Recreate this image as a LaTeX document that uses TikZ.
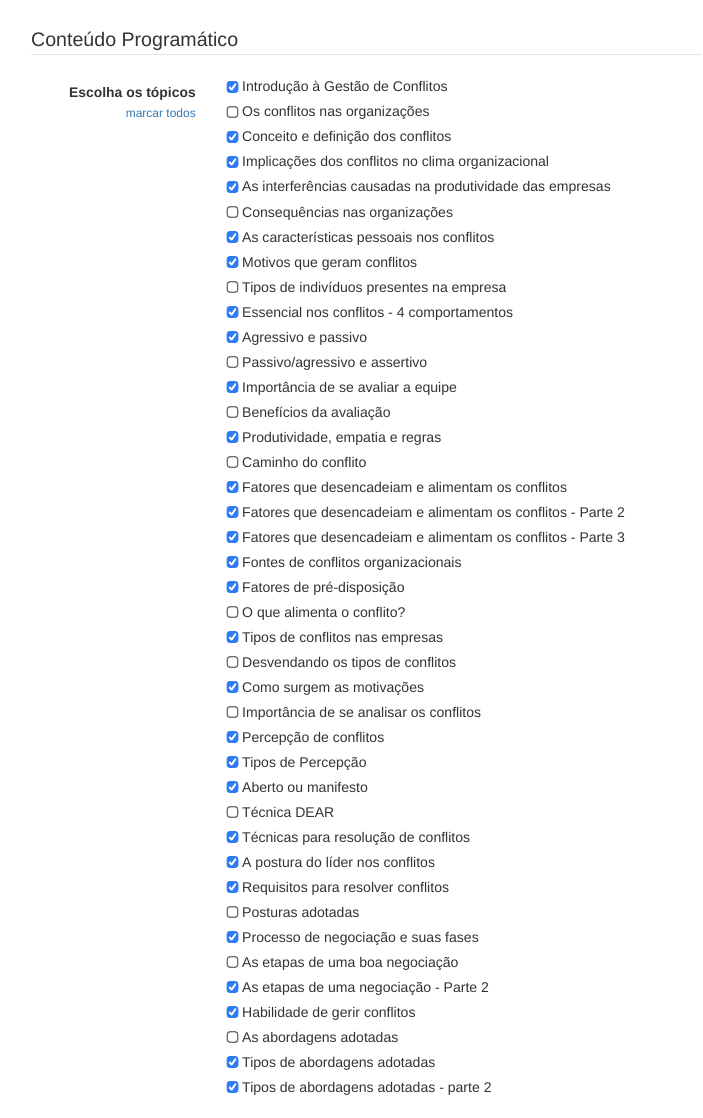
\documentclass[tikz,border=0pt]{standalone}
\usepackage{fontspec}
\setmainfont{Liberation Sans}
\definecolor{txt}{HTML}{333333}
\definecolor{head}{HTML}{333333}
\definecolor{rule}{HTML}{E5E5E5}
\definecolor{linkblue}{HTML}{337AB7}
\definecolor{cbblue}{HTML}{2F7BF5}
\definecolor{cbgray}{HTML}{6E6E6E}
\tikzset{
  boxon/.style={fill=cbblue, draw=cbblue, line width=0.6pt, rounded corners=2.5pt},
  boxoff/.style={fill=white, draw=cbgray, line width=1.3pt, rounded corners=2.5pt},
  tick/.style={draw=white, line width=1.8pt, line cap=round, line join=round},
  topic/.style={inner sep=0pt, text=txt, font=\fontsize{14.05}{16}\selectfont, anchor=base west},
}
\newcommand\topicitem[3]{%
  \pgfmathsetmacro\ycen{87+25*(#1-1)}%
  \ifnum#2=1
    \draw[boxon] (227,{\ycen-5.5}) rectangle (238,{\ycen+5.5});
    \draw[tick] (229.5,{\ycen+0.2}) -- (231.6,{\ycen+2.6}) -- (235.5,{\ycen-3.0});
  \else
    \draw[boxoff] (227.3,{\ycen-5.2}) rectangle (237.7,{\ycen+5.2});
  \fi
  \node[topic] (t#1) at (242,{\ycen+5}) {#3};
}
\begin{document}
\begin{tikzpicture}[x=1pt,y=-1pt]
\useasboundingbox[fill=white] (0,0) rectangle (702,1118);
\node[inner sep=0pt, anchor=base west, text=head, font=\fontsize{19.6}{23}\selectfont] (title) at (31,47) {Conteúdo Programático};
\coordinate (rl) at (31,54.5);
\coordinate (rr) at (702,54.5);
\draw[rule, line width=1.5pt] (rl) -- (rr);
\node[inner sep=0pt, anchor=base east, text=txt, font=\fontsize{13.9}{16}\selectfont\bfseries] (lbl) at (196,98) {Escolha os tópicos};
\node[inner sep=0pt, anchor=base east, text=linkblue, font=\fontsize{12}{14}\selectfont] (mark) at (196,118) {marcar todos};
\topicitem{1}{1}{Introdução à Gestão de Conflitos}
\topicitem{2}{0}{Os conflitos nas organizações}
\topicitem{3}{1}{Conceito e definição dos conflitos}
\topicitem{4}{1}{Implicações dos conflitos no clima organizacional}
\topicitem{5}{1}{As interferências causadas na produtividade das empresas}
\topicitem{6}{0}{Consequências nas organizações}
\topicitem{7}{1}{As características pessoais nos conflitos}
\topicitem{8}{1}{Motivos que geram conflitos}
\topicitem{9}{0}{Tipos de indivíduos presentes na empresa}
\topicitem{10}{1}{Essencial nos conflitos - 4 comportamentos}
\topicitem{11}{1}{Agressivo e passivo}
\topicitem{12}{0}{Passivo/agressivo e assertivo}
\topicitem{13}{1}{Importância de se avaliar a equipe}
\topicitem{14}{0}{Benefícios da avaliação}
\topicitem{15}{1}{Produtividade, empatia e regras}
\topicitem{16}{0}{Caminho do conflito}
\topicitem{17}{1}{Fatores que desencadeiam e alimentam os conflitos}
\topicitem{18}{1}{Fatores que desencadeiam e alimentam os conflitos - Parte 2}
\topicitem{19}{1}{Fatores que desencadeiam e alimentam os conflitos - Parte 3}
\topicitem{20}{1}{Fontes de conflitos organizacionais}
\topicitem{21}{1}{Fatores de pré-disposição}
\topicitem{22}{0}{O que alimenta o conflito?}
\topicitem{23}{1}{Tipos de conflitos nas empresas}
\topicitem{24}{0}{Desvendando os tipos de conflitos}
\topicitem{25}{1}{Como surgem as motivações}
\topicitem{26}{0}{Importância de se analisar os conflitos}
\topicitem{27}{1}{Percepção de conflitos}
\topicitem{28}{1}{Tipos de Percepção}
\topicitem{29}{1}{Aberto ou manifesto}
\topicitem{30}{0}{Técnica DEAR}
\topicitem{31}{1}{Técnicas para resolução de conflitos}
\topicitem{32}{1}{A postura do líder nos conflitos}
\topicitem{33}{1}{Requisitos para resolver conflitos}
\topicitem{34}{0}{Posturas adotadas}
\topicitem{35}{1}{Processo de negociação e suas fases}
\topicitem{36}{0}{As etapas de uma boa negociação}
\topicitem{37}{1}{As etapas de uma negociação - Parte 2}
\topicitem{38}{1}{Habilidade de gerir conflitos}
\topicitem{39}{0}{As abordagens adotadas}
\topicitem{40}{1}{Tipos de abordagens adotadas}
\topicitem{41}{1}{Tipos de abordagens adotadas - parte 2}
\end{tikzpicture}
\end{document}
